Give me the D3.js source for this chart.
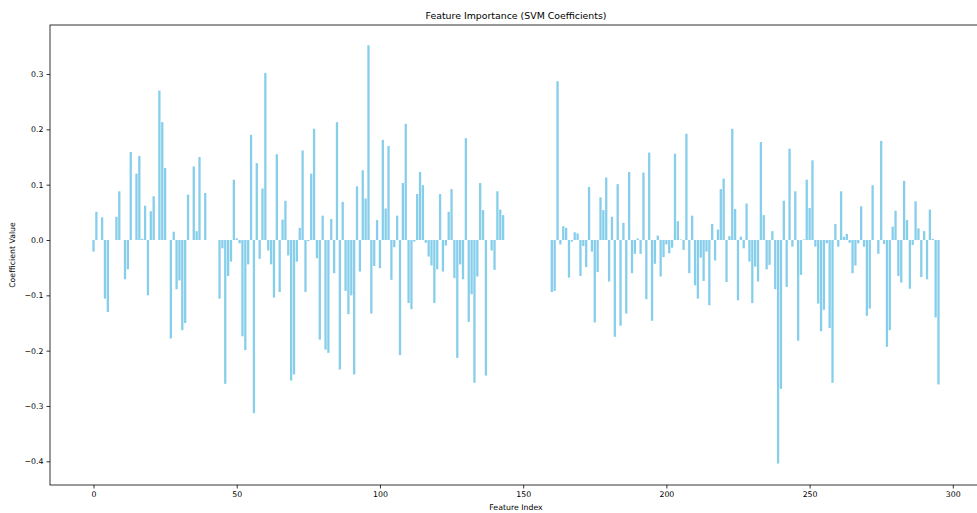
<!DOCTYPE html>
<html>
<head>
<meta charset="utf-8">
<script src="https://cdn.jsdelivr.net/npm/d3@7"></script>
<style>
  body { margin: 0; background: white; }
  svg { display: block; font-family: "DejaVu Sans", sans-serif; }
</style>
</head>
<body>
<svg></svg>
<script>
// coefficient per feature, index 0..295
const coefs = [
  -0.021, 0.051, 0, 0.041, -0.106, -0.130, 0, 0, 0.042, 0.088,
  0, -0.071, -0.053, 0.159, 0, 0.120, 0.152, 0.002, 0.062, -0.100,
  0.052, 0.079, 0, 0.270, 0.213, 0.130, 0, -0.178, 0.015, -0.089,
  -0.073, -0.163, -0.150, 0.082, 0, 0.133, 0.016, 0.150, 0, 0.085,
  0, 0, 0, 0, -0.106, -0.015, -0.260, -0.065, -0.039, 0.109,
  0.003, -0.006, -0.174, -0.199, -0.044, 0.190, -0.313, 0.139, -0.034, 0.093,
  0.302, -0.019, -0.044, -0.104, 0.155, -0.094, 0.037, 0.071, -0.028, -0.254,
  -0.243, -0.039, 0.022, 0.162, -0.094, -0.002, 0.120, 0.201, -0.033, -0.180,
  0.044, -0.198, -0.204, 0.038, -0.060, 0.213, -0.234, 0.069, -0.092, -0.134,
  -0.100, -0.243, 0.097, -0.057, 0.126, 0.075, 0.352, -0.133, -0.047, 0.036,
  -0.051, 0.181, 0.057, 0.170, -0.072, -0.013, 0.044, -0.208, 0.103, 0.210,
  -0.114, -0.125, -0.003, 0.083, 0.123, 0.099, -0.005, -0.030, -0.046, -0.114,
  -0.053, 0.083, -0.057, -0.010, 0.051, 0.092, -0.069, -0.213, -0.044, -0.071,
  0.184, -0.148, -0.098, -0.258, -0.066, 0.103, 0.054, -0.245, 0, -0.019,
  -0.054, 0.088, 0.055, 0.045, 0, 0, 0, 0, 0, 0,
  0, 0, 0, 0, 0, 0, 0, 0, 0, 0,
  -0.094, -0.092, 0.287, -0.008, 0.025, 0.022, -0.068, -0.003, 0.014, 0.012,
  -0.065, -0.011, -0.049, 0.096, -0.021, -0.149, -0.058, 0.077, 0.054, 0.113,
  -0.075, 0.042, -0.175, 0.101, -0.155, 0.031, -0.133, 0.123, -0.060, -0.025,
  0.003, -0.025, 0.122, -0.107, 0.158, -0.146, -0.043, 0.008, -0.066, -0.031,
  -0.008, -0.024, -0.014, 0.156, 0.034, 0.001, -0.018, 0.192, -0.060, 0.044,
  -0.082, -0.106, -0.032, -0.074, -0.021, -0.118, 0.029, -0.037, 0.019, 0.092,
  0.111, -0.076, 0.007, 0.201, 0.056, -0.109, 0.006, -0.015, 0.066, -0.039,
  -0.114, -0.048, -0.075, 0.177, 0.045, -0.053, -0.045, 0.016, -0.089, -0.404,
  -0.269, 0.071, -0.085, 0.165, -0.012, 0.088, -0.182, -0.063, 0.001, 0.109,
  0.058, 0.144, -0.012, -0.115, -0.165, -0.126, -0.006, -0.159, -0.258, 0.029,
  -0.012, 0.088, 0.006, 0.011, -0.005, -0.060, -0.046, -0.006, 0.061, -0.012,
  -0.137, -0.124, 0.099, 0, -0.025, 0.179, -0.007, -0.193, -0.163, 0.024,
  0.053, -0.065, -0.077, 0.107, 0.036, -0.088, -0.009, 0.070, 0.021, -0.067,
  0.016, -0.071, 0.055, 0.002, -0.140, -0.261
];

const xTicks = [0, 50, 100, 150, 200, 250, 300];
const yTicks = [-0.4, -0.3, -0.2, -0.1, 0.0, 0.1, 0.2, 0.3];

const w = 977;
const h = 513;

const svg = d3.select("svg")
    .attr("width", w)
    .attr("height", h);

const m = { left: 50, right: 982, top: 25, bottom: 485 };

const x = d3.scaleLinear().domain([-15.19, 310.19]).range([m.left, m.right]);
const y = d3.scaleLinear().domain([-0.4428, 0.3886]).range([m.bottom, m.top]);

const bw = 0.8 * (x(1) - x(0));

const data = coefs.map((v, i) => ({ i, v }));

svg.append("g")
    .selectAll("rect")
    .data(data)
    .join("rect")
    .attr("x", d => x(d.i) - bw / 2)
    .attr("y", d => y(Math.max(0, d.v)))
    .attr("width", bw)
    .attr("height", d => Math.abs(y(d.v) - y(0)))
    .attr("fill", "#87ceeb");

const fmt = v => d3.format(".1f")(v).replace("-", "\u2212");

const xAxis = svg.append("g")
    .attr("transform", `translate(0,${m.bottom})`)
    .call(d3.axisBottom(x).tickValues(xTicks).tickFormat(d3.format("d")).tickSize(3.5).tickPadding(3));

const yAxis = svg.append("g")
    .attr("transform", `translate(${m.left},0)`)
    .call(d3.axisLeft(y).tickValues(yTicks).tickFormat(fmt).tickSize(3.5).tickPadding(3));

[xAxis, yAxis].forEach(a => {
    a.select(".domain").remove();
    a.selectAll("line").attr("stroke", "#000").attr("stroke-width", 0.8);
    a.selectAll("text").attr("font-family", "DejaVu Sans").attr("font-size", 7.8).attr("fill", "#000");
});

// frame
svg.append("rect")
    .attr("x", m.left)
    .attr("y", m.top)
    .attr("width", m.right - m.left)
    .attr("height", m.bottom - m.top)
    .attr("fill", "none")
    .attr("stroke", "#000")
    .attr("stroke-width", 0.8);

svg.append("text")
    .attr("x", (m.left + m.right) / 2)
    .attr("y", 19)
    .attr("text-anchor", "middle")
    .attr("font-size", 9.4)
    .text("Feature Importance (SVM Coefficients)");

svg.append("text")
    .attr("x", (m.left + m.right) / 2)
    .attr("y", 510)
    .attr("text-anchor", "middle")
    .attr("font-size", 7.8)
    .text("Feature Index");

svg.append("text")
    .attr("transform", `translate(15,${(m.top + m.bottom) / 2}) rotate(-90)`)
    .attr("text-anchor", "middle")
    .attr("font-size", 7.8)
    .text("Coefficient Value");
</script>
</body>
</html>
